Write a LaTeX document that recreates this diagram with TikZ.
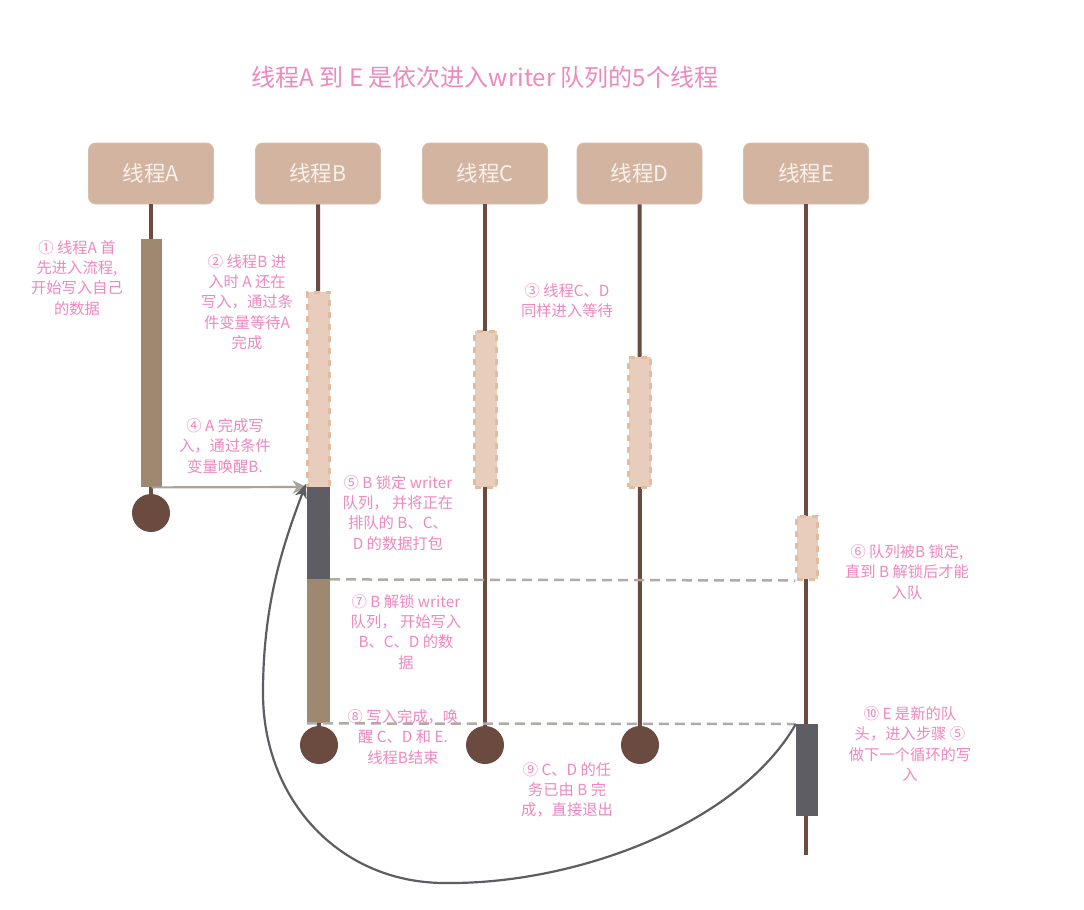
\documentclass[tikz,border=0pt]{standalone}
\usepackage{fontspec}
\setmainfont{Noto Sans CJK SC}
\usetikzlibrary{arrows.meta}
\definecolor{hdrfill}{HTML}{D3B4A0}
\definecolor{hdrtext}{HTML}{F8F1EC}
\definecolor{lifec}{HTML}{6B4B40}
\definecolor{actc}{HTML}{9E8870}
\definecolor{waitfill}{HTML}{E9CDBC}
\definecolor{waitdraw}{HTML}{E2BC9F}
\definecolor{lockc}{HTML}{5E5D63}
\definecolor{notec}{HTML}{EE88C0}
\definecolor{gdash}{HTML}{B1ABA7}
\definecolor{garrow}{HTML}{A9A39E}
\begin{document}
\begin{tikzpicture}[x=1pt,y=-1pt,
  header/.style={draw=hdrfill!85!white, line width=0.8pt, fill=hdrfill, rounded corners=7pt,
    minimum width=125pt, minimum height=61pt, text=hdrtext, font=\fontsize{21.5}{25}\selectfont},
  lifeline/.style={draw=lifec, line width=4pt},
  bar/.style={rectangle, inner sep=0pt, anchor=north},
  actbar/.style={bar, fill=actc},
  lockbar/.style={bar, fill=lockc},
  waitbox/.style={bar, fill=waitfill, draw=waitdraw, line width=2.5pt, dash pattern=on 6pt off 6pt},
  endcirc/.style={circle, fill=lifec, minimum size=38pt, inner sep=0pt},
  note/.style={text=notec, align=center, font=\fontsize{15.3}{20.2}\selectfont, inner sep=0pt},
  gline/.style={draw=gdash, line width=2.5pt, dash pattern=on 10pt off 6pt},
]
\useasboundingbox[fill=white] (0,0) rectangle (1084,910);

% title
\node[text=notec, font=\fontsize{24}{28}\selectfont] (title) at (485,77) {线程A 到 E 是依次进入writer 队列的5个线程};

% headers
\node[header] (hA) at (151,173.5) {线程A};
\node[header] (hB) at (318,173.5) {线程B};
\node[header] (hC) at (485,173.5) {线程C};
\node[header] (hD) at (639.5,173.5) {线程D};
\node[header] (hE) at (806,173.5) {线程E};

% end circles and coordinates
\coordinate (cAc) at (151,513);
\coordinate (cBc) at (319,745);
\coordinate (cCc) at (485,745);
\coordinate (cDc) at (640,745);
\coordinate (eEnd) at (806,855);

% lifelines
\draw[lifeline] (hA.south) -- (cAc);
\draw[lifeline] (hB.south) -- (cBc);
\draw[lifeline] (hC.south) -- (cCc);
\draw[lifeline] (hD.south) -- (cDc);
\draw[lifeline] (hE.south) -- (eEnd);

% bars
\node[actbar, minimum width=21pt, minimum height=248pt] (aA) at (151.5,239) {};
\node[waitbox, minimum width=22pt, minimum height=196pt] (wB) at (318.5,291) {};
\node[lockbar, minimum width=23pt, minimum height=92pt] (lB) at (318.5,487) {};
\node[actbar, minimum width=23pt, minimum height=144pt] (aB) at (318.5,579) {};
\node[waitbox, minimum width=22pt, minimum height=156pt] (wC) at (485.5,330) {};
\node[waitbox, minimum width=22pt, minimum height=130pt] (wD) at (639.5,356) {};
\node[waitbox, minimum width=21pt, minimum height=63pt] (wE) at (807,515) {};
\node[lockbar, minimum width=22pt, minimum height=92pt] (lE) at (807,724) {};

% circles
\node[endcirc] (cA) at (cAc) {};
\node[endcirc] (cB) at (cBc) {};
\node[endcirc] (cC) at (cCc) {};
\node[endcirc] (cD) at (cDc) {};

% dashed horizontal lines
\draw[gline] (lB.south east) -- (wE.south west);
\draw[gline] (aB.south west) -- (lE.north west);

% arrow A -> B
\draw[draw=garrow, line width=2.2pt, -{Stealth[length=14pt,width=13pt,inset=4pt]}] (aA.south) -- (lB.north west);

% curve E -> B
\coordinate (k1) at (447,883);
\coordinate (k2) at (263,693);
\draw[draw=lockc, line width=2.2pt, -{Stealth[length=14pt,width=12pt,inset=4pt]}]
  (lE.north west) .. controls (740,822) and (580,884) .. (k1)
  .. controls (340,884) and (263,800) .. (k2)
  .. controls (263,600) and (285,540) .. ([xshift=-1pt,yshift=3pt]lB.north west);

% notes
\node[note] (n1) at (77,278) {① 线程A 首\\先进入流程,\\开始写入自己\\的数据};
\node[note] (n2) at (247,302) {② 线程B 进\\入时 A 还在\\写入，通过条\\件变量等待A\\完成};
\node[note] (n3) at (567,301) {③ 线程C、D\\同样进入等待};
\node[note] (n4) at (225,446) {④ A 完成写\\入，通过条件\\变量唤醒B.};
\node[note] (n5) at (398,513) {⑤ B 锁定 writer\\队列， 并将正在\\排队的 B、C、\\D 的数据打包};
\node[note] (n6) at (907,572) {⑥ 队列被B 锁定,\\直到 B 解锁后才能\\入队};
\node[note] (n7) at (406,632) {⑦ B 解锁 writer\\队列， 开始写入\\B、C、D 的数\\据};
\node[note] (n8) at (403,737) {⑧ 写入完成，唤\\醒 C、D 和 E.\\线程B结束};
\node[note] (n9) at (567,790) {⑨ C、D 的任\\务已由 B 完\\成，直接退出};
\node[note] (n10) at (910,744) {⑩ E 是新的队\\头，进入步骤 ⑤\\做下一个循环的写\\入};
\end{tikzpicture}
\end{document}
